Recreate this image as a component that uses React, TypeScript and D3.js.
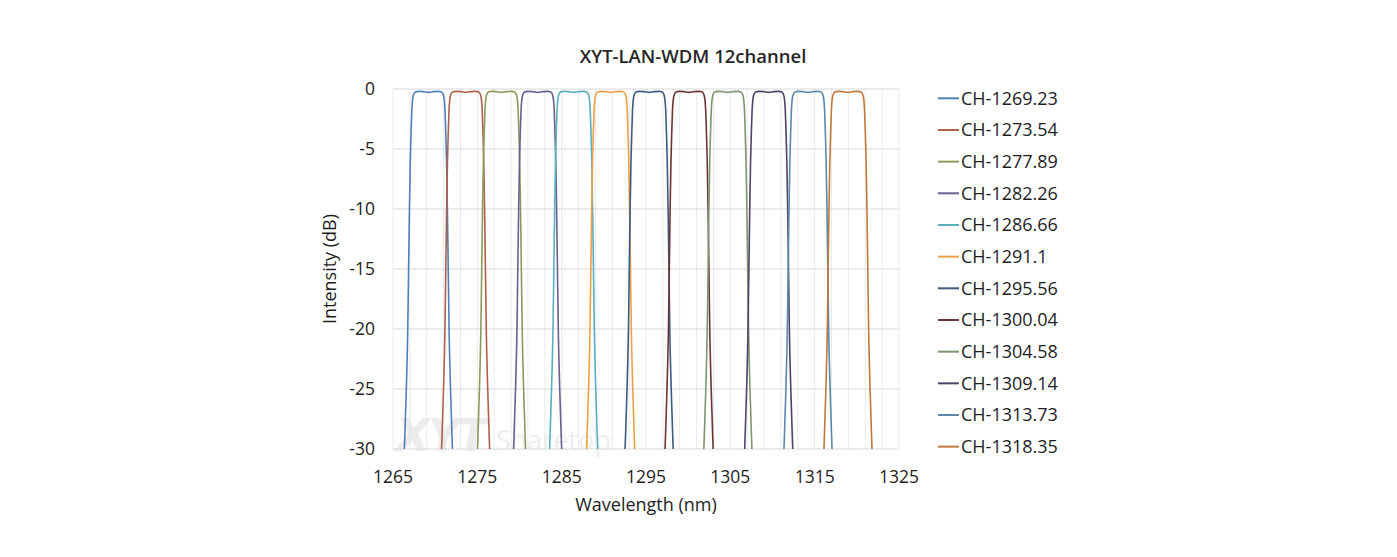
import React from "react";
import * as d3 from "d3";

const chartTitle = "XYT-LAN-WDM 12channel";
const xAxisTitle = "Wavelength (nm)";
const yAxisTitle = "Intensity (dB)";

const channelLabels = [
  "CH-1269.23", "CH-1273.54", "CH-1277.89", "CH-1282.26", "CH-1286.66", "CH-1291.1",
  "CH-1295.56", "CH-1300.04", "CH-1304.58", "CH-1309.14", "CH-1313.73", "CH-1318.35",
];
// passband centres (nm)
const channelCenters = [
  1269.2, 1273.61, 1277.87, 1282.15, 1286.42, 1290.81,
  1295.37, 1300.11, 1304.71, 1309.55, 1314.21, 1318.95,
];
const channelColors = [
  "#4f7fb8", "#b0604a", "#8a9a5b", "#6a5f8e", "#5aaec0", "#eda04a",
  "#3d5a80", "#6b3535", "#7f9470", "#4d4468", "#5d88aa", "#c0783c",
];
// shared filter shape: offset from centre (nm) and level (dB)
const profileOffset = [
  -3.05, -2.85, -2.62, -2.45, -2.35, -2.25, -2.15, -2.05, -1.97, -1.88, -1.75, -1.55, -1.2, -0.6, 0,
  0.6, 1.2, 1.55, 1.75, 1.88, 1.97, 2.05, 2.15, 2.25, 2.35, 2.45, 2.62, 2.85, 3.05,
];
const profileDb = [
  -34, -30, -25, -20, -15, -10, -6, -3.5, -1.8, -0.9, -0.45, -0.25, -0.2, -0.22, -0.28,
  -0.22, -0.2, -0.25, -0.45, -0.9, -1.8, -3.5, -6, -10, -15, -20, -25, -30, -34,
];

const xTicks = [1265, 1275, 1285, 1295, 1305, 1315, 1325];
const yTicks = [0, -5, -10, -15, -20, -25, -30];

const W = 1397;
const H = 557;
const plot = { left: 393, right: 899, top: 89, bottom: 449 };

export default function App() {
  const x = d3.scaleLinear().domain([1265, 1325]).range([plot.left, plot.right]);
  const y = d3.scaleLinear().domain([-30, 0]).range([plot.bottom, plot.top]);
  const line = d3
    .line<[number, number]>()
    .x((d) => x(d[0]))
    .y((d) => y(d[1]))
    .curve(d3.curveMonotoneX);

  const xGrid = d3.range(1265, 1325.001, 2);
  const font = "'Open Sans', sans-serif";
  const legendY0 = 98.3;
  const legendStep = 31.67;

  return (
    <svg
      width={W}
      height={H}
      style={{ position: "absolute", left: 0, top: 0, background: "#fff" }}
      fontFamily={font}
    >
      <defs>
        <clipPath id="plotClip">
          <rect x={plot.left} y={plot.top - 2} width={plot.right - plot.left} height={plot.bottom - plot.top + 2} />
        </clipPath>
      </defs>
      <rect x={0} y={0} width={W} height={H} fill="#fff" />
      {/* vertical grid */}
      {xGrid.map((v) => (
        <line key={"vx" + v} x1={x(v)} x2={x(v)} y1={plot.top} y2={plot.bottom} stroke="#ebebeb" strokeWidth={1} />
      ))}
      {/* horizontal grid */}
      {yTicks.map((v) => (
        <line key={"hy" + v} x1={plot.left} x2={plot.right} y1={y(v)} y2={y(v)} stroke="#d9d9d9" strokeWidth={1.2} />
      ))}
      {/* watermark */}
      <g opacity={0.6}>
        <text x={396} y={451} fontSize={44} fontWeight={800} fontStyle="italic" fill="#e0e0e0" fontFamily="'DejaVu Sans', sans-serif" textLength={92}>
          XYT
        </text>
        <text x={496} y={450} fontSize={27} fill="#e3e3e3" fontFamily={font}>
          Sharetop
        </text>
      </g>
      {/* curves */}
      <g clipPath="url(#plotClip)">
        {channelCenters.map((c, i) => {
          const pts: [number, number][] = profileOffset.map((o, k) => [c + o, profileDb[k]]);
          return (
            <path key={channelLabels[i]} d={line(pts) || ""} fill="none" stroke={channelColors[i]} strokeWidth={1.6} />
          );
        })}
      </g>
      {/* title */}
      <text x={693} y={63} textAnchor="middle" fontSize={18.5} fontWeight={600} fill="#262626">
        {chartTitle}
      </text>
      {/* y tick labels */}
      {yTicks.map((v) => (
        <text key={"yl" + v} x={375} y={y(v)} dy="0.35em" textAnchor="end" fontSize={17.5} fill="#1e1e1e">
          {v}
        </text>
      ))}
      {/* x tick labels */}
      {xTicks.map((v) => (
        <text key={"xl" + v} x={x(v)} y={477} dy="0.35em" textAnchor="middle" fontSize={17.5} fill="#1e1e1e">
          {v}
        </text>
      ))}
      {/* axis titles */}
      <text x={(plot.left + plot.right) / 2} y={505} dy="0.35em" textAnchor="middle" fontSize={18} fill="#1e1e1e">
        {xAxisTitle}
      </text>
      <text
        transform={`translate(330,${(plot.top + plot.bottom) / 2}) rotate(-90)`}
        dy="0.35em"
        textAnchor="middle"
        fontSize={18}
        fill="#1e1e1e"
      >
        {yAxisTitle}
      </text>
      {/* legend */}
      {channelLabels.map((lab, i) => {
        const ly = legendY0 + i * legendStep;
        return (
          <g key={"lg" + lab}>
            <line x1={938} x2={959} y1={ly} y2={ly} stroke={channelColors[i]} strokeWidth={2} />
            <text x={961} y={ly} dy="0.35em" fontSize={18} fill="#1e1e1e">
              {lab}
            </text>
          </g>
        );
      })}
    </svg>
  );
}
